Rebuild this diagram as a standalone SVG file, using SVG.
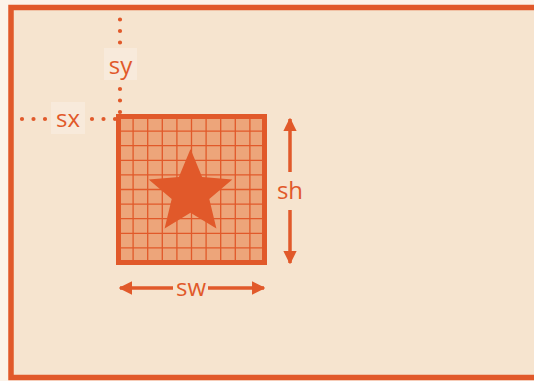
<svg xmlns="http://www.w3.org/2000/svg" width="534" height="381" viewBox="0 0 534 381">
<defs>
<style>
.lbl{font-family:"Open Sans","DejaVu Sans",sans-serif;font-size:24px;fill:#e1592a;text-anchor:middle;dominant-baseline:central}
.dot{stroke:#e1592a;stroke-width:4.2;stroke-linecap:round;stroke-dasharray:0 11.5;fill:none}
.arr{stroke:#e1592a;stroke-width:3.5;fill:none}
.grid{stroke:#e1592a;stroke-width:1.3;fill:none}
.bg{fill:#f8eadb}
</style>
<marker id="ah" viewBox="0 0 10 10" refX="9" refY="5" markerWidth="3.8" markerHeight="3.8" orient="auto-start-reverse" markerUnits="strokeWidth">
<path d="M0,0 L10,5 L0,10 Z" fill="#e1592a"/>
</marker>
</defs>
<rect x="0" y="0" width="534" height="381" fill="#fcf3e9"/>
<rect x="11" y="7.5" width="540" height="370" fill="#f6e4cf" stroke="#e1592a" stroke-width="5.5"/>
<g id="connectors">
<line class="dot" x1="120" y1="19.5" x2="120" y2="45"/>
<line class="dot" x1="120" y1="89" x2="120" y2="114"/>
<line class="dot" x1="22" y1="119" x2="46" y2="119"/>
<line class="dot" x1="92" y1="119" x2="117" y2="119"/>
<line class="arr" x1="290" y1="172" x2="290" y2="119" marker-end="url(#ah)"/>
<line class="arr" x1="290" y1="210" x2="290" y2="263" marker-end="url(#ah)"/>
<line class="arr" x1="173" y1="288" x2="120" y2="288" marker-end="url(#ah)"/>
<line class="arr" x1="208" y1="288" x2="264" y2="288" marker-end="url(#ah)"/>
</g>
<g id="sprite">
<rect x="118.5" y="116.5" width="146" height="146" fill="#eda57a"/>
<path class="grid" d="M133.1,116.5V262.5M147.7,116.5V262.5M162.3,116.5V262.5M176.9,116.5V262.5M191.5,116.5V262.5M206.1,116.5V262.5M220.7,116.5V262.5M235.3,116.5V262.5M249.9,116.5V262.5M118.5,131.1H264.5M118.5,145.7H264.5M118.5,160.3H264.5M118.5,174.9H264.5M118.5,189.5H264.5M118.5,204.1H264.5M118.5,218.7H264.5M118.5,233.3H264.5M118.5,247.9H264.5"/>
<rect x="118.5" y="116.5" width="146" height="146" fill="none" stroke="#e1592a" stroke-width="5"/>
<polygon points="190.5,149 202.1,177 232.3,179.4 209.3,199.1 216.4,228.6 190.5,212.8 164.6,228.6 171.7,199.1 148.7,179.4 178.9,177" fill="#e1592a"/>
</g>
<g id="label-sy">
<rect class="bg" x="104" y="48" width="33" height="32"/>
<text class="lbl" x="120.5" y="64">sy</text>
</g>
<g id="label-sx">
<rect class="bg" x="51" y="102" width="34" height="32"/>
<text class="lbl" x="68" y="117">sx</text>
</g>
<g id="label-sh">
<text class="lbl" x="290" y="189">sh</text>
</g>
<g id="label-sw">
<text class="lbl" x="191" y="286">sw</text>
</g>
</svg>
